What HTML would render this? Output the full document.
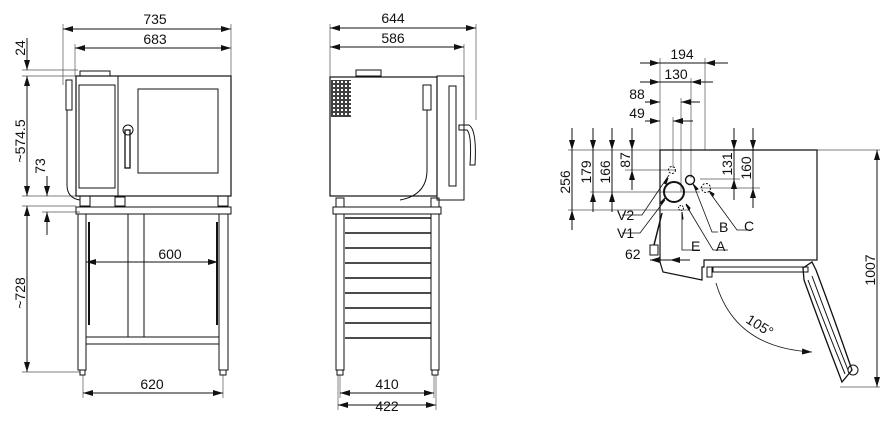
<!DOCTYPE html>
<html><head><meta charset="utf-8"><style>
html,body{margin:0;padding:0;background:#fff;}
svg{display:block;}
text{font-family:"Liberation Sans",sans-serif;font-size:14px;fill:#111;}
</style></head><body>
<svg width="896" height="431" viewBox="0 0 896 431" xmlns="http://www.w3.org/2000/svg">
<defs>
<marker id="a" viewBox="0 0 10 6" refX="10" refY="3" markerWidth="10" markerHeight="6" orient="auto-start-reverse" markerUnits="userSpaceOnUse"><path d="M0,0 L10,3 L0,6z" fill="#111"/></marker>
<pattern id="v" width="4" height="4" patternUnits="userSpaceOnUse"><rect width="4" height="4" fill="#fff"/><rect x="0.5" y="0.5" width="3" height="3" fill="none" stroke="#111" stroke-width="0.8"/></pattern>
</defs>
<g stroke="#111" fill="none" stroke-width="1">
<!-- FRONT VIEW -->
<g stroke-width="0.7" stroke="#555">
<line x1="63" y1="24" x2="63" y2="85"/><line x1="231" y1="24" x2="231" y2="78"/>
<line x1="75" y1="44" x2="75" y2="76"/>
<line x1="22" y1="70" x2="78" y2="70"/><line x1="22" y1="76" x2="76" y2="76"/>
<line x1="22" y1="196" x2="76" y2="196"/><line x1="22" y1="206" x2="76" y2="206"/>
<line x1="22" y1="372" x2="80" y2="372"/>
<line x1="42" y1="212" x2="80" y2="212"/>
<line x1="83" y1="375" x2="83" y2="398"/><line x1="223" y1="375" x2="223" y2="398"/>
</g>
<line x1="63" y1="29" x2="231" y2="29" marker-start="url(#a)" marker-end="url(#a)"/>
<line x1="75" y1="48" x2="231" y2="48" marker-start="url(#a)" marker-end="url(#a)"/>
<line x1="27" y1="38" x2="27" y2="70" marker-end="url(#a)"/>
<line x1="27" y1="76" x2="27" y2="196" marker-start="url(#a)" marker-end="url(#a)"/>
<line x1="27" y1="206" x2="27" y2="372" marker-start="url(#a)" marker-end="url(#a)"/>
<line x1="47" y1="176" x2="47" y2="196" marker-end="url(#a)"/>
<line x1="47" y1="235" x2="47" y2="212" marker-end="url(#a)"/>
<line x1="86" y1="262" x2="218" y2="262" marker-start="url(#a)" marker-end="url(#a)"/>
<line x1="83" y1="393" x2="223" y2="393" marker-start="url(#a)" marker-end="url(#a)"/>
<rect x="76" y="76" width="155" height="120" stroke-width="1.2"/>
<line x1="118" y1="76" x2="118" y2="196"/>
<rect x="79" y="85" width="36" height="103"/>
<rect x="138" y="89" width="80" height="84"/>
<rect x="80" y="71" width="30" height="5"/>
<circle cx="128" cy="130" r="5"/>
<rect x="125" y="130" width="5" height="38" stroke-width="1.3"/>
<path d="M66,80 h6 v30 h-6z"/>
<path d="M67,110 V185 Q67,198 80,200"/>
<rect x="80" y="196" width="10" height="10"/><rect x="115" y="197" width="10" height="9"/><rect x="218" y="196" width="10" height="10"/>
<rect x="76" y="207" width="155" height="7"/>
<rect x="78" y="214" width="8" height="156"/><rect x="219" y="214" width="9" height="156"/>
<rect x="80" y="370" width="5" height="5"/><rect x="220" y="370" width="6" height="5"/>
<line x1="89" y1="222" x2="89" y2="325" stroke-width="2"/><line x1="217" y1="222" x2="217" y2="325" stroke-width="2"/>
<rect x="128" y="214" width="16" height="123"/>
<rect x="86" y="337" width="133" height="7"/>
<!-- SIDE VIEW -->
<g stroke-width="0.7" stroke="#555">
<line x1="330" y1="24" x2="330" y2="77"/><line x1="476" y1="24" x2="476" y2="120"/><line x1="464" y1="44" x2="464" y2="76"/>
<line x1="338" y1="375" x2="338" y2="410"/><line x1="436" y1="375" x2="436" y2="410"/>
<line x1="340" y1="375" x2="340" y2="398"/><line x1="434" y1="375" x2="434" y2="398"/>
</g>
<line x1="330" y1="28" x2="476" y2="28" marker-start="url(#a)" marker-end="url(#a)"/>
<line x1="330" y1="47" x2="464" y2="47" marker-start="url(#a)" marker-end="url(#a)"/>
<line x1="340" y1="393" x2="434" y2="393" marker-start="url(#a)" marker-end="url(#a)"/>
<line x1="338" y1="405" x2="436" y2="405" marker-start="url(#a)" marker-end="url(#a)"/>
<rect x="330" y="77" width="107" height="119" stroke-width="1.2"/>
<rect x="437" y="76" width="27" height="124"/>
<rect x="449" y="86" width="7" height="100"/>
<rect x="331" y="80" width="20" height="37" fill="url(#v)" stroke="none"/>
<rect x="356" y="70" width="25" height="6"/>
<path d="M459,125 h10 q8,5 6,40 h-5 q2,-30 -3,-35 h-8z"/>
<path d="M427,110 V170 Q427,195 400,200"/>
<rect x="423" y="85" width="8" height="25"/>
<rect x="333" y="207" width="108" height="7"/>
<rect x="336" y="214" width="8" height="156"/><rect x="431" y="214" width="8" height="156"/>
<rect x="337" y="370" width="6" height="5"/><rect x="432" y="370" width="6" height="5"/>
<rect x="336" y="198" width="8" height="9"/><rect x="431" y="198" width="8" height="9"/>
<g stroke-width="1.4">
<line x1="345" y1="218" x2="431" y2="218"/><line x1="345" y1="233" x2="431" y2="233"/>
<line x1="345" y1="248" x2="431" y2="248"/><line x1="345" y1="263" x2="431" y2="263"/>
<line x1="345" y1="278" x2="431" y2="278"/><line x1="345" y1="293" x2="431" y2="293"/>
<line x1="345" y1="308" x2="431" y2="308"/><line x1="345" y1="323" x2="431" y2="323"/>
<line x1="345" y1="338" x2="431" y2="338"/>
</g>
<!-- TOP VIEW -->
<g stroke-width="0.7" stroke="#555">
<line x1="660" y1="58" x2="660" y2="150"/><line x1="705" y1="58" x2="705" y2="150"/>
<line x1="691" y1="78" x2="691" y2="178"/><line x1="681" y1="98" x2="681" y2="192"/><line x1="673" y1="117" x2="673" y2="168"/>
<line x1="568" y1="150" x2="880" y2="150"/>
<line x1="590" y1="192" x2="700" y2="192"/><line x1="568" y1="210" x2="690" y2="210"/>
<line x1="625" y1="170" x2="675" y2="170"/><line x1="700" y1="188" x2="760" y2="188"/><line x1="700" y1="179" x2="740" y2="179"/>
<line x1="840" y1="387" x2="880" y2="387"/>
</g>
<line x1="640" y1="63" x2="660" y2="63" marker-end="url(#a)"/><line x1="728" y1="63" x2="705" y2="63" marker-end="url(#a)"/><line x1="660" y1="63" x2="705" y2="63"/>
<line x1="640" y1="82" x2="660" y2="82" marker-end="url(#a)"/><line x1="713" y1="82" x2="691" y2="82" marker-end="url(#a)"/><line x1="660" y1="82" x2="691" y2="82"/>
<line x1="645" y1="102" x2="660" y2="102" marker-end="url(#a)"/><line x1="700" y1="102" x2="681" y2="102" marker-end="url(#a)"/>
<line x1="645" y1="121" x2="660" y2="121" marker-end="url(#a)"/><line x1="693" y1="121" x2="673" y2="121" marker-end="url(#a)"/>
<line x1="572" y1="128" x2="572" y2="150" marker-end="url(#a)"/><line x1="572" y1="230" x2="572" y2="210" marker-end="url(#a)"/><line x1="572" y1="150" x2="572" y2="210"/>
<line x1="593" y1="128" x2="593" y2="150" marker-end="url(#a)"/><line x1="593" y1="212" x2="593" y2="192" marker-end="url(#a)"/><line x1="593" y1="150" x2="593" y2="192"/>
<line x1="612" y1="128" x2="612" y2="150" marker-end="url(#a)"/><line x1="612" y1="212" x2="612" y2="192" marker-end="url(#a)"/><line x1="612" y1="150" x2="612" y2="192"/>
<line x1="632" y1="128" x2="632" y2="150" marker-end="url(#a)"/><line x1="632" y1="190" x2="632" y2="170" marker-end="url(#a)"/><line x1="632" y1="150" x2="632" y2="170"/>
<line x1="734" y1="128" x2="734" y2="150" marker-end="url(#a)"/><line x1="734" y1="200" x2="734" y2="179" marker-end="url(#a)"/><line x1="734" y1="150" x2="734" y2="179"/>
<line x1="753" y1="128" x2="753" y2="150" marker-end="url(#a)"/><line x1="753" y1="208" x2="753" y2="188" marker-end="url(#a)"/><line x1="753" y1="150" x2="753" y2="188"/>
<line x1="877" y1="150" x2="877" y2="387" marker-start="url(#a)" marker-end="url(#a)"/>
<line x1="650" y1="260" x2="670" y2="260" marker-start="url(#a)"/><line x1="690" y1="260" x2="670" y2="260" marker-end="url(#a)"/>
<path d="M660,150 H817 V260 H704 V267 H702 V280 L663,272 L660,262 Z" stroke-width="1.2"/>
<rect x="713" y="267" width="95" height="5"/>
<path d="M803,268 L812,262 L816,270 Q834,318 852,370 L842,382 Q822,330 804,280 Z" stroke-width="1.3"/>
<path d="M808,280 Q827,330 845,374"/>
<path d="M812,276 Q830,325 848,370"/>
<circle cx="853" cy="370" r="5"/>
<rect x="707" y="267" width="5" height="10"/>
<path d="M716,283 Q735,348 812,352" stroke-width="0.8" marker-end="url(#a)"/>
<circle cx="674" cy="192" r="10" stroke-width="2"/>
<circle cx="690" cy="180" r="4.5" stroke-width="1.4"/>
<circle cx="706" cy="188" r="4.5" stroke-dasharray="2,1.5"/>
<circle cx="672" cy="170" r="3.5" stroke-dasharray="2,1.5"/>
<circle cx="681" cy="208" r="2.5" stroke-dasharray="1.5,1"/>
<g stroke-width="0.8">
<path d="M669,175 L642,215 H622"/><path d="M665,200 L640,233 H622"/>
<path d="M694,186 L712,232 H718"/><path d="M710,193 L737,230 H752"/>
<path d="M682,213 L682,250 H700"/><path d="M686,205 L713,250 H728"/>
</g>
<path d="M668,178 l-4,5 2,1z M665,198 l-5,5 2,1z M693,184 l3,6 2,-1z M709,191 l4,5 1,-2z M682,212 v7 h1z M686,204 l3,6 1,-2z" fill="#111"/>
<path d="M662,213 L654,245" stroke-width="1.5"/><rect x="650" y="245" width="8" height="10"/>
</g>
<!-- TEXT -->
<text x="155" y="24" text-anchor="middle">735</text>
<text x="155" y="44" text-anchor="middle">683</text>
<text x="170" y="259" text-anchor="middle">600</text>
<text x="152" y="389" text-anchor="middle">620</text>
<text transform="translate(25,48) rotate(-90)" text-anchor="middle">24</text>
<text transform="translate(25,141) rotate(-90)" text-anchor="middle">~574.5</text>
<text transform="translate(25,293) rotate(-90)" text-anchor="middle">~728</text>
<text transform="translate(45,166) rotate(-90)" text-anchor="middle">73</text>
<text x="393" y="23" text-anchor="middle">644</text>
<text x="393" y="43" text-anchor="middle">586</text>
<text x="387" y="389" text-anchor="middle">410</text>
<text x="387" y="411" text-anchor="middle">422</text>
<text x="682" y="59" text-anchor="middle">194</text>
<text x="676" y="79" text-anchor="middle">130</text>
<text x="637" y="99" text-anchor="middle">88</text>
<text x="637" y="118" text-anchor="middle">49</text>
<text transform="translate(570,182) rotate(-90)" text-anchor="middle">256</text>
<text transform="translate(591,172) rotate(-90)" text-anchor="middle">179</text>
<text transform="translate(610,172) rotate(-90)" text-anchor="middle">166</text>
<text transform="translate(630,160) rotate(-90)" text-anchor="middle">87</text>
<text transform="translate(732,164) rotate(-90)" text-anchor="middle">131</text>
<text transform="translate(751,168) rotate(-90)" text-anchor="middle">160</text>
<text transform="translate(875,270) rotate(-90)" text-anchor="middle">1007</text>
<text x="617" y="220">V2</text>
<text x="617" y="238">V1</text>
<text x="719" y="232">B</text>
<text x="744" y="231">C</text>
<text x="691" y="251">E</text>
<text x="716" y="251">A</text>
<text x="625" y="259">62</text>
<text transform="translate(745,322) rotate(32)">105°</text>
</svg>
</body></html>
